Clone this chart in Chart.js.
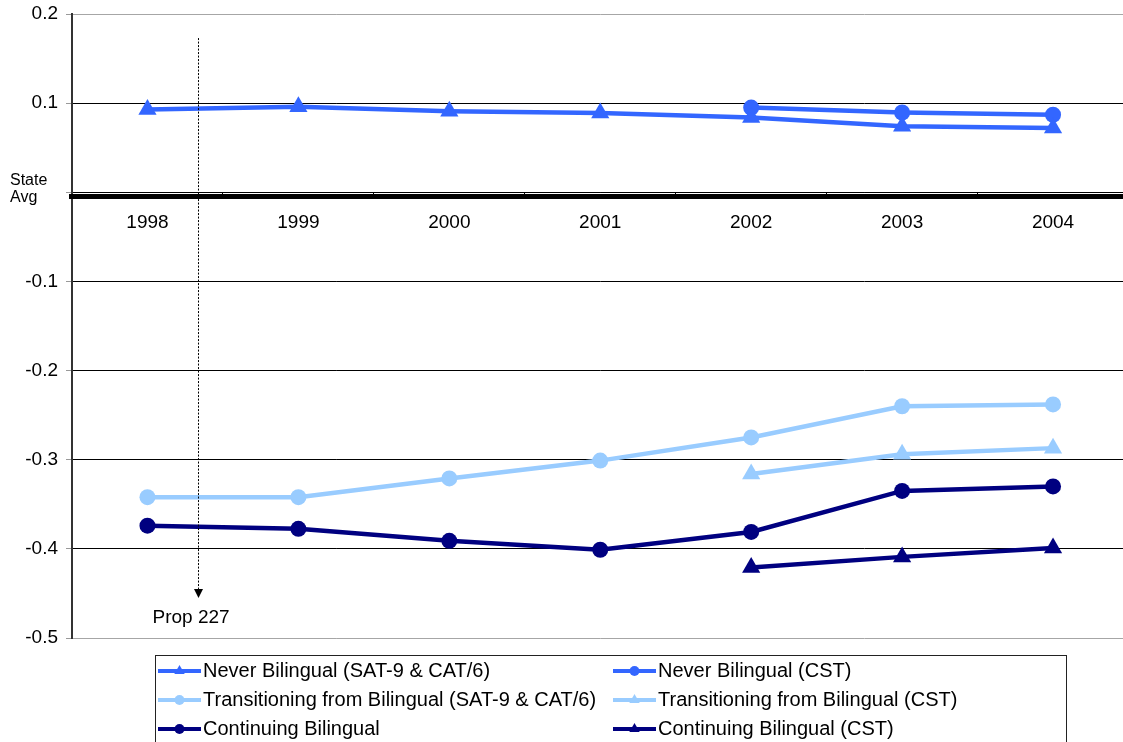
<!DOCTYPE html>
<html>
<head>
<meta charset="utf-8">
<script src="https://cdn.jsdelivr.net/npm/chart.js@4/dist/chart.umd.min.js"></script>
<style>
  html, body { margin: 0; padding: 0; background: #fff; overflow: hidden; }
  #wrap { position: absolute; left: 0; top: 0; width: 1139px; height: 742px; }
</style>
</head>
<body>
<div id="wrap"><canvas id="chart"></canvas></div>
<script>
// Values
const years = ['1998', '1999', '2000', '2001', '2002', '2003', '2004'];
const neverSat = [0.093, 0.096, 0.091, 0.089, 0.084, 0.074, 0.072];
const neverCst = [null, null, null, null, 0.095, 0.0895, 0.087];
const transSat = [-0.342, -0.342, -0.321, -0.301, -0.275, -0.240, -0.238];
const transCst = [null, null, null, null, -0.316, -0.294, -0.287];
const contSat = [-0.374, -0.3775, -0.391, -0.401, -0.381, -0.335, -0.330];
const contCst = [null, null, null, null, -0.421, -0.409, -0.399];

const seriesNames = [
    'Never Bilingual (SAT-9 & CAT/6)',
    'Never Bilingual (CST)',
    'Transitioning from Bilingual (SAT-9 & CAT/6)',
    'Transitioning from Bilingual (CST)',
    'Continuing Bilingual',
    'Continuing Bilingual (CST)'
];
const yTicks = { min: -0.5, max: 0.2, step: 0.1 };

// Prop 227 marker, in category index / value units
const propAt = 0.335;
const propTop = 0.173;
const propBottom = -0.445;

const FONT = '"Liberation Sans", Arial, sans-serif';
const BLUE = '#3366FF';
const LIGHT = '#99CCFF';
const NAVY = '#000080';

Chart.defaults.font.family = FONT;
Chart.defaults.color = '#000';

function series(label, data, color, style) {
    return {
        label: label,
        data: data,
        borderColor: color,
        backgroundColor: color,
        borderWidth: 4.5,
        pointStyle: style,
        pointRadius: style === 'triangle' ? 10.5 : 8,
        pointBorderWidth: 0,
        pointBackgroundColor: color,
        tension: 0
    };
}

const overlay = {
    id: 'overlay',
    afterDraw(chart) {
        const { ctx, chartArea, scales: { x, y } } = chart;
        const y0 = y.getPixelForValue(0);
        ctx.save();

        // heavy category axis line just under zero
        ctx.fillStyle = '#000';
        ctx.fillRect(chartArea.left - 3, Math.round(y0) + 2, chartArea.right - chartArea.left + 3, 5);

        ctx.font = '16px ' + FONT;
        ctx.textAlign = 'left';
        ctx.textBaseline = 'middle';
        ctx.fillText('State', 10, y0 - 12);
        ctx.fillText('Avg', 10, y0 + 5);

        // Prop 227 dotted arrow
        const px = Math.round(x.getPixelForValue(propAt)) + 0.5;
        const top = y.getPixelForValue(propTop);
        const bottom = y.getPixelForValue(propBottom);
        ctx.strokeStyle = '#000';
        ctx.lineWidth = 1;
        ctx.setLineDash([2, 1.5]);
        ctx.beginPath();
        ctx.moveTo(px, top);
        ctx.lineTo(px, bottom);
        ctx.stroke();
        ctx.setLineDash([]);
        ctx.beginPath();
        ctx.moveTo(px - 4.5, bottom);
        ctx.lineTo(px + 4.5, bottom);
        ctx.lineTo(px, bottom + 9);
        ctx.closePath();
        ctx.fill();
        ctx.font = '19px ' + FONT;
        ctx.fillText('Prop 227', px - 46, bottom + 29);

        // legend, two columns by three rows
        ctx.strokeStyle = '#222';
        ctx.lineWidth = 1;
        ctx.strokeRect(155.5, 655.5, 911, 120);
        const colX = [158, 613];
        const rowY = [671, 700, 729];
        ctx.font = '20px ' + FONT;
        chart.data.datasets.forEach((ds, i) => {
            const lx = colX[i % 2];
            const ly = rowY[Math.floor(i / 2)];
            ctx.strokeStyle = ds.borderColor;
            ctx.fillStyle = ds.borderColor;
            ctx.lineWidth = 4;
            ctx.beginPath();
            ctx.moveTo(lx, ly);
            ctx.lineTo(lx + 43, ly);
            ctx.stroke();
            Chart.helpers.drawPoint(ctx, {
                pointStyle: ds.pointStyle,
                radius: ds.pointStyle === 'triangle' ? 6 : 5,
                rotation: 0,
                borderWidth: 0
            }, lx + 21.5, ly);
            ctx.fillStyle = '#000';
            ctx.fillText(ds.label, lx + 45, ly);
        });

        ctx.restore();
    }
};

new Chart(document.getElementById('chart'), {
    type: 'line',
    data: {
        labels: years,
        datasets: [
            series(seriesNames[0], neverSat, BLUE, 'triangle'),
            series(seriesNames[1], neverCst, BLUE, 'circle'),
            series(seriesNames[2], transSat, LIGHT, 'circle'),
            series(seriesNames[3], transCst, LIGHT, 'triangle'),
            series(seriesNames[4], contSat, NAVY, 'circle'),
            series(seriesNames[5], contCst, NAVY, 'triangle')
        ]
    },
    options: {
        responsive: true,
        maintainAspectRatio: false,
        animation: false,
        layout: { padding: { left: 0, top: 14, right: 1, bottom: 104 } },
        plugins: {
            legend: { display: false },
            tooltip: { enabled: false }
        },
        scales: {
            x: {
                position: { y: 0 },
                offset: true,
                grid: {
                    offset: true,
                    drawOnChartArea: false,
                    drawTicks: true,
                    tickLength: 6,
                    color: '#000'
                },
                border: { display: true, color: '#000', width: 1 },
                ticks: { font: { size: 19 }, padding: 13, color: '#000', maxRotation: 0 }
            },
            y: {
                min: yTicks.min,
                max: yTicks.max,
                afterFit(scale) {
                    scale.width = 72;
                    scale.paddingTop = 0;
                    scale.paddingBottom = 0;
                },
                grid: {
                    color: (c) => {
                        const v = c.tick ? c.tick.value : 0;
                        return (Math.abs(v - yTicks.max) < 1e-6 || Math.abs(v - yTicks.min) < 1e-6) ? '#a6a6a6' : '#000';
                    },
                    tickColor: '#999',
                    tickLength: 6,
                    lineWidth: 1
                },
                border: { display: true, color: '#333', width: 2 },
                ticks: {
                    stepSize: yTicks.step,
                    padding: 8,
                    font: { size: 19 },
                    color: '#000',
                    callback: (v) => Math.abs(v) < 1e-9 ? '' : Number(v).toFixed(1)
                }
            }
        }
    },
    plugins: [overlay]
});
</script>
</body>
</html>
